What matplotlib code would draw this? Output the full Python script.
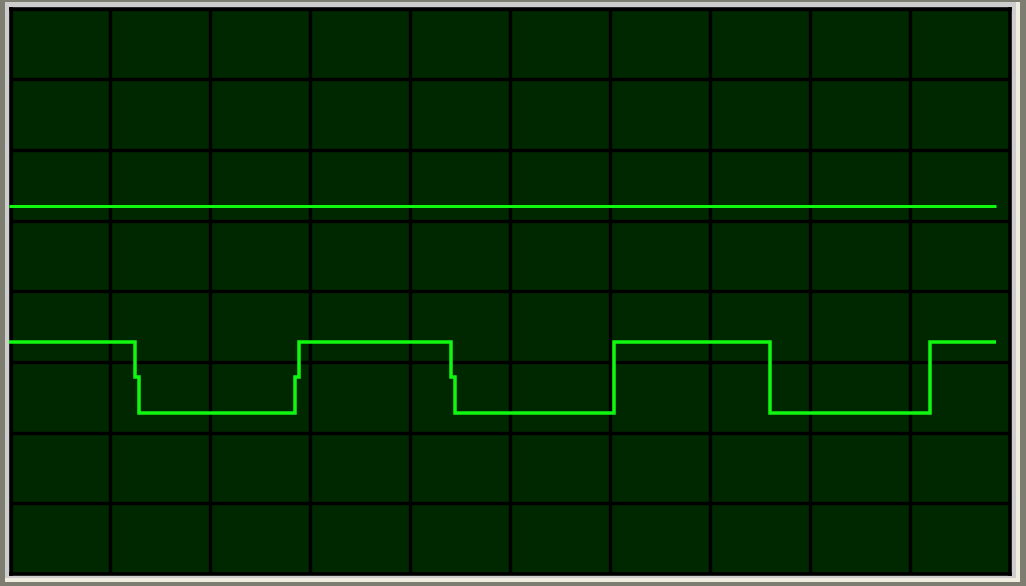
import matplotlib
matplotlib.use("Agg")
import matplotlib.pyplot as plt
from matplotlib.patches import Rectangle

# Screen: 10 horizontal x 8 vertical divisions
n_xdiv = 10
n_ydiv = 8

# Channel A: flat DC trace (time in divisions, level in divisions)
dc_t = [-0.015, 9.86]
dc_v = [5.20, 5.20]

# Channel B: square wave with short glitch steps on the first edges
sq_t = [-0.015, 1.246, 1.284, 2.848, 2.886, 4.409, 4.447, 6.038, 7.599, 9.200, 9.86]
sq_v = [3.275, 2.78, 2.278, 2.78, 3.275, 2.78, 2.278, 3.275, 2.278, 3.275, 3.275]

W, H, DPI = 1026, 586, 100
DARK_FRAME = "#7d7d71"
LIGHT_FRAME = "#cdcdcd"
CREAM_FRAME = "#efece0"
SCREEN = "#002800"
TRACE = "#10f810"

fig = plt.figure(figsize=(W / DPI, H / DPI), dpi=DPI, facecolor=DARK_FRAME)


def px_rect(x0, y0, x1, y1, color):
    """Rectangle given in pixel box (origin top-left) drawn in figure fractions."""
    fig.add_artist(Rectangle((x0 / W, 1 - y1 / H), (x1 - x0) / W, (y1 - y0) / H,
                             transform=fig.transFigure, facecolor=color,
                             edgecolor="none", zorder=0))


# bevelled bezel around the screen
px_rect(5, 2, 1020, 582, CREAM_FRAME)
px_rect(5, 2, 1016, 578, LIGHT_FRAME)

left, right, top, bottom = 10.5, 1010.0, 8.5, 574.0
ax = fig.add_axes([left / W, 1 - bottom / H, (right - left) / W, (bottom - top) / H])
ax.set_facecolor(SCREEN)
ax.set_xlim(0, n_xdiv)
ax.set_ylim(0, n_ydiv)

px = 72.0 / DPI  # points per pixel
for sp in ax.spines.values():
    sp.set_color("black")
    sp.set_linewidth(3.6 * px)

ax.set_xticks(range(n_xdiv + 1))
ax.set_yticks(range(n_ydiv + 1))
ax.tick_params(length=0, labelbottom=False, labelleft=False)
ax.grid(True, color="black", linewidth=3.4 * px)
ax.set_axisbelow(True)

ax.plot(dc_t, dc_v, color=TRACE, linewidth=3.0 * px, solid_capstyle="butt",
        clip_on=False, zorder=3)
ax.plot(sq_t, sq_v, drawstyle="steps-post", color=TRACE, linewidth=3.5 * px,
        solid_capstyle="butt", solid_joinstyle="miter", clip_on=False, zorder=3)

fig.savefig("out.png", dpi=DPI, facecolor=fig.get_facecolor())
